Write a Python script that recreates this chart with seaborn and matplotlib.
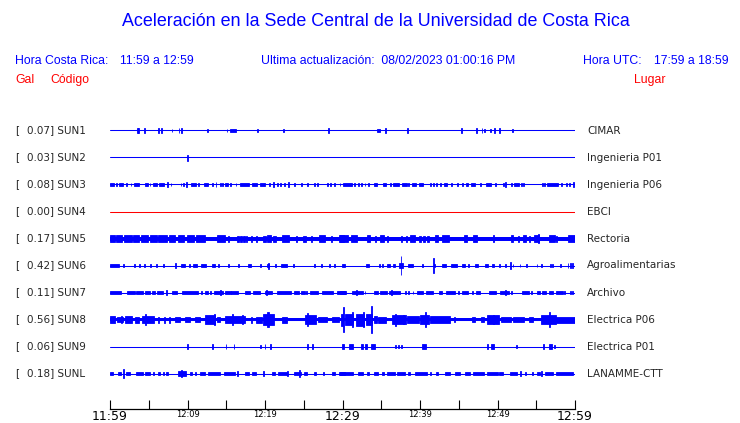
import numpy as np
import pandas as pd
import matplotlib
matplotlib.use("Agg")
import matplotlib.pyplot as plt
import seaborn as sns

# Estaciones, valores pico (Gal) y lugares
codes = ['SUN1', 'SUN2', 'SUN3', 'SUN4', 'SUN5', 'SUN6', 'SUN7', 'SUN8', 'SUN9', 'SUNL']
gal = ['0.07', '0.03', '0.08', '0.00', '0.17', '0.42', '0.11', '0.56', '0.06', '0.18']
places = ['CIMAR', 'Ingenieria P01', 'Ingenieria P06', 'EBCI', 'Rectoria',
          'Agroalimentarias', 'Archivo', 'Electrica P06', 'Electrica P01', 'LANAMME-CTT']
time_labels = ['11:59', '12:09', '12:19', '12:29', '12:39', '12:49', '12:59']

# ruido de fondo continuo (media amplitud, px)
base_amp = [0, 0, 0, 0, 2.0, 0, 0, 1.8, 0, 0]

# rafagas: (minuto, duracion en minutos, media amplitud px)
sun1 = [(3.5, .12, 1.7), (3.7, .12, 1.7), (4.4, .12, 1.7), (6.2, .12, 1.7), (6.6, .12, 1.7),
        (8.0, .12, 1.0), (8.9, .12, 1.7), (9.2, .12, 1.7), (12.6, .12, 1.5), (15.1, .12, 1.5),
        (15.85, .85, 1.4), (19.0, .12, 1.5), (22.4, .12, 1.5), (28.2, .12, 1.7), (34.7, .4, 1.4),
        (35.5, .12, 1.7), (38.4, .12, 1.7), (45.3, .12, 1.7), (47.3, .12, 1.7), (48.0, .12, 1.7),
        (48.3, .12, 1.5), (49.1, .12, 1.0), (49.6, .12, 1.7), (50.2, .12, 1.7), (51.9, .12, 1.0)]
sun2 = [(10.0, .12, 2.5)]
sun3 = [(0.25, .5, 1.5), (0.86, .12, 1.5), (1.4, .45, 1.5), (2.15, .12, 1.5), (2.71, .12, 1.5),
        (3.45, .7, 1.5), (4.7, .35, 1.5), (5.16, .12, 1.5), (5.8, .4, 1.5), (6.65, .65, 1.5),
        (7.44, .12, 1.8), (7.87, .12, 1.5), (9.16, .12, 1.5), (9.46, .12, 1.5), (9.89, .12, 2.2),
        (10.75, .6, 1.5), (11.4, .12, 1.5), (12.4, .43, 1.5), (13.2, .12, 1.5), (13.68, .12, 1.8),
        (14.28, .12, 1.5), (14.54, .12, 1.5), (15.05, .3, 1.5), (15.6, .12, 1.5), (16.26, .12, 1.5),
        (17.3, 1.15, 1.5), (18.65, .73, 1.5), (19.7, .65, 1.5), (20.56, .12, 1.5), (21.08, .12, 1.8),
        (21.63, .12, 1.5), (21.94, .12, 1.5), (22.5, .12, 1.5), (23.0, .12, 1.8), (23.8, .12, 1.2),
        (24.73, .12, 1.2), (25.5, .12, 1.2), (26.36, .12, 1.5), (26.8, .12, 1.5), (28.1, .12, 1.2),
        (28.5, .12, 1.5), (28.95, .12, 1.2), (29.68, .12, 1.5), (30.65, 1.1, 1.5), (31.5, .12, 1.5),
        (32.05, .12, 1.5), (32.5, .12, 1.5), (32.9, .12, 1.5), (33.4, .12, 1.5), (34.2, .4, 1.5),
        (35.4, .45, 1.5), (36.2, .12, 1.5), (36.95, .75, 1.5), (38.0, .6, 1.5), (38.5, .12, 1.5),
        (39.2, .5, 1.5), (40.15, .55, 1.5), (41.3, .12, 1.5), (41.7, .12, 1.5), (42.1, .12, 1.5),
        (42.6, .12, 1.2), (43.25, .35, 1.5), (44.1, .12, 1.2), (44.8, .12, 1.5), (45.5, .12, 1.5),
        (46.05, .3, 1.5), (46.85, .5, 1.5), (47.8, .12, 1.5), (48.85, .75, 1.5), (49.8, .12, 1.5),
        (50.75, .12, 1.5), (51.0, .12, 1.8), (51.8, .12, 1.5), (52.4, .65, 1.5), (53.1, .12, 1.5),
        (53.4, .12, 1.5), (55.8, .12, 1.5), (56.1, .12, 1.5), (57.1, 1.5, 1.5), (58.3, .12, 1.5),
        (58.9, .12, 1.5), (59.35, .12, 1.5), (59.8, .12, 1.8)]
sun4 = []
sun5 = [(0.3, .6, 2.6), (1.2, .8, 2.8), (2.3, 1.0, 2.6), (3.4, .8, 2.8), (4.5, .9, 2.6),
        (5.6, .8, 3.2), (6.8, 1.2, 2.6), (8.0, .7, 2.6), (9.2, .8, 2.8), (10.4, .9, 2.6),
        (11.7, 1.2, 2.6), (14.3, 1.0, 2.6), (15.3, .12, 2.5), (16.5, .2, 2.5), (16.9, .2, 2.5),
        (17.3, .2, 2.5), (17.6, .12, 2.5), (18.3, .12, 2.5), (18.9, .12, 2.5), (19.9, .4, 2.5),
        (20.5, .5, 2.6), (21.2, .4, 2.5), (22.7, .9, 2.7), (24.1, .12, 2.5), (25.1, .4, 2.5),
        (26.0, .12, 2.5), (27.4, .8, 2.6), (28.6, .12, 2.5), (29.9, .7, 2.7), (30.2, 1.0, 2.7),
        (31.5, .8, 2.8), (33.3, .4, 2.7), (34.2, .12, 2.5), (35.1, .6, 2.7), (35.8, .12, 2.5),
        (37.6, .12, 2.5), (38.2, .12, 2.5), (39.0, .6, 3.0), (40.0, .2, 2.5), (40.5, .3, 2.5),
        (41.0, .2, 2.5), (42.1, .4, 2.7), (43.3, .9, 3.0), (45.9, .4, 2.6), (47.1, .5, 2.8),
        (49.5, .2, 2.7), (51.9, .3, 2.6), (52.7, .12, 2.5), (53.5, .4, 2.7), (54.1, .12, 2.5),
        (55.0, .6, 2.8), (55.3, .12, 3.5), (57.0, .8, 2.8), (57.6, .12, 2.5), (59.5, .9, 2.7)]
sun6 = [(0.6, 1.2, 1.5), (1.7, .12, 1.5), (3.2, .12, 1.5), (3.8, .12, 1.5), (4.5, .12, 1.5),
        (5.2, .2, 1.5), (6.0, .12, 1.5), (6.9, .12, 1.5), (8.4, .12, 2.2), (9.45, .5, 1.5),
        (10.3, .12, 1.5), (10.95, .5, 1.5), (12.1, .6, 1.5), (13.3, .4, 1.5), (14.0, .12, 1.5),
        (15.3, .12, 1.5), (16.6, .12, 1.5), (18.0, .4, 1.5), (19.4, .12, 1.5), (20.4, .12, 2.5),
        (20.4, .25, 1.5), (21.3, .12, 1.5), (22.45, .7, 1.5), (23.7, .12, 1.5), (26.4, .12, 1.5),
        (27.3, .12, 1.5), (28.3, .12, 1.5), (29.0, .12, 1.5), (30.1, .4, 1.5), (33.2, .4, 1.5),
        (34.8, .12, 1.5), (35.2, .12, 1.5), (35.95, .35, 1.5), (36.65, .3, 1.5), (37.55, .5, 2.0),
        (37.55, .12, 8.0), (38.75, .6, 1.5), (40.3, .12, 1.5), (41.7, .1, 6.5), (41.9, .12, 1.5),
        (43.1, .55, 1.5), (44.4, .85, 1.5), (45.6, .4, 1.5), (46.2, .12, 1.5), (47.3, .4, 1.5),
        (48.6, .4, 1.5), (49.45, .3, 1.5), (50.2, .12, 1.5), (51.0, .12, 1.5), (51.7, .12, 3.3),
        (52.0, .12, 1.5), (52.9, .12, 1.5), (53.7, .12, 1.5), (55.1, .12, 1.5), (55.7, .12, 1.5),
        (56.8, .12, 1.5), (57.1, .12, 1.5), (58.1, .12, 1.5), (59.1, .12, 2.0), (59.4, .12, 2.0),
        (59.7, .12, 2.0)]
sun7 = [(0.7, 1.4, 1.5), (2.7, 1.0, 1.5), (3.85, .9, 1.5), (4.85, .7, 1.5), (5.6, .4, 1.5),
        (6.45, .9, 1.5), (7.3, .12, 2.0), (8.35, .7, 1.5), (10.3, 2.0, 1.5), (11.8, .12, 1.5),
        (12.5, .4, 1.5), (13.0, .12, 1.5), (14.0, 1.1, 1.5), (14.3, .12, 2.0), (15.2, .7, 1.5),
        (16.1, .9, 1.5), (17.75, .7, 1.5), (18.95, .9, 1.5), (20.45, .9, 1.5), (20.2, .12, 2.0),
        (22.5, 1.8, 1.5), (24.05, .7, 1.5), (24.95, .5, 1.5), (25.4, .12, 1.5), (26.3, 1.0, 1.5),
        (28.1, 1.4, 1.5), (29.8, 1.0, 1.5), (30.1, .8, 1.5), (31.9, 1.4, 1.5), (31.8, .2, 2.0),
        (32.9, .12, 1.5), (34.3, .6, 1.5), (35.25, .9, 1.5), (36.7, 1.4, 1.5), (36.3, .12, 2.2),
        (38.1, .12, 1.5), (38.5, .12, 1.5), (39.1, .12, 1.5), (40.0, .8, 1.5), (41.25, .9, 1.5),
        (42.6, .4, 1.5), (43.95, 1.1, 1.5), (44.95, .12, 1.5), (45.8, .8, 1.5), (46.8, .12, 1.5),
        (47.45, .5, 1.5), (49.35, .9, 1.5), (50.9, 1.2, 1.5), (51.0, .12, 2.0), (51.8, .12, 1.5),
        (53.55, .9, 1.5), (54.4, .12, 1.5), (55.3, .4, 1.5), (56.0, .6, 1.5), (56.9, .6, 1.5),
        (58.0, .8, 1.5), (58.7, .12, 1.5), (59.4, .12, 1.5), (59.7, .12, 1.5)]
sun8 = [(0.3, .6, 3.2), (1.3, .8, 2.4), (1.5, .12, 3.0), (2.4, 1.0, 2.8), (3.45, .5, 2.5),
        (4.9, 1.6, 3.3), (4.6, .15, 4.3), (6.2, .12, 2.5), (7.0, .12, 2.5), (7.7, .12, 2.5),
        (8.7, .6, 2.4), (10.0, .6, 2.4), (11.3, .6, 2.4), (12.9, 1.3, 3.5), (13.5, .12, 4.3),
        (14.0, .4, 2.4), (16.1, 2.6, 3.2), (15.8, .12, 4.3), (17.1, .12, 4.0), (18.3, .12, 2.5),
        (19.25, .7, 2.5), (20.5, 1.4, 4.5), (20.4, .2, 6.5), (22.5, .6, 2.5), (25.9, 1.4, 4.0),
        (25.5, .12, 5.7), (27.45, 1.1, 2.4), (29.05, .9, 2.4), (29.9, .3, 5.0), (30.1, .12, 10.5),
        (30.8, 1.0, 4.5), (31.3, .12, 6.5), (32.3, 1.0, 5.0), (32.7, .12, 6.0), (33.4, .7, 4.5),
        (33.8, .12, 11.5), (34.3, .4, 3.0), (35.1, 1.0, 2.5), (37.3, 1.9, 3.8), (36.8, .12, 5.0),
        (37.9, .12, 4.0), (39.1, 1.6, 2.7), (40.6, 1.2, 4.0), (40.7, .12, 6.0), (42.6, 2.5, 2.7),
        (44.5, .12, 2.4), (46.9, .4, 2.4), (48.05, .3, 2.4), (49.4, 1.6, 3.5), (49.5, .12, 4.0),
        (51.1, 1.2, 2.4), (52.7, 1.5, 2.4), (54.3, .6, 2.4), (56.6, 2.0, 4.0), (56.7, .12, 6.5),
        (58.8, 2.4, 2.5)]
sun9 = [(10.0, .12, 2.3), (13.2, .12, 2.0), (14.97, .12, 1.8), (16.0, .12, 2.0), (19.4, .12, 1.5),
        (20.0, .12, 2.3), (20.7, .12, 2.3), (25.5, .12, 2.3), (26.1, .12, 2.3), (30.1, .3, 2.0),
        (31.15, .5, 2.0), (32.5, .3, 2.0), (33.0, .3, 2.0), (33.95, .5, 2.0), (36.8, .12, 1.5),
        (37.2, .12, 1.5), (37.6, .12, 1.5), (40.5, .5, 2.0), (48.7, .12, 2.0), (49.4, .35, 2.0),
        (52.4, .12, 1.5), (55.9, .12, 2.0), (56.8, .4, 2.0), (57.4, .12, 1.5)]
sunl = [(0.2, .4, 1.5), (1.2, .4, 1.5), (1.7, .12, 4.0), (2.35, .5, 1.5), (3.8, .8, 1.5),
        (4.85, .7, 1.5), (5.6, .12, 1.5), (6.35, .3, 1.5), (6.9, .12, 1.5), (7.4, .25, 1.5),
        (9.3, 1.0, 1.7), (9.2, .12, 2.7), (10.45, .3, 1.5), (11.0, .12, 1.5), (11.95, .7, 1.5),
        (13.4, 1.6, 1.5), (15.4, 1.5, 1.6), (16.4, .12, 2.0), (17.65, .5, 1.5), (18.6, .6, 1.5),
        (19.8, .12, 2.0), (21.1, .4, 1.5), (22.3, 1.2, 1.6), (22.9, .12, 2.0), (24.25, .9, 1.5),
        (24.5, .12, 2.7), (25.2, .4, 1.5), (26.5, .25, 1.5), (27.5, .12, 1.5), (28.8, .4, 1.5),
        (29.9, .8, 1.5), (30.5, 1.6, 1.5), (32.35, .7, 1.5), (33.3, .3, 1.5), (34.3, .6, 1.5),
        (35.2, .2, 1.5), (36.25, 1.1, 1.5), (37.55, 1.1, 1.5), (38.6, .2, 1.5), (40.1, 1.5, 1.5),
        (41.3, .12, 1.5), (42.2, .2, 1.5), (43.55, .7, 1.5), (44.85, .7, 1.5), (46.15, .7, 1.5),
        (47.5, 1.4, 1.5), (49.35, 1.5, 1.5), (50.5, .5, 1.5), (52.05, .9, 1.5), (53.0, .12, 2.0),
        (53.6, .12, 1.5), (54.5, .12, 1.5), (55.3, .4, 1.5), (55.7, .12, 2.0), (56.65, 1.1, 1.5),
        (58.7, 2.2, 1.5)]
bursts = [sun1, sun2, sun3, sun4, sun5, sun6, sun7, sun8, sun9, sunl]

BLUE = '#0000ff'
RED = '#ff0000'
W, H = 740, 423
GAIN = 1.2  # escala de amplitud en pixeles


def fy(y):
    return 1 - y / H


sns.set_style('white')
plt.rcParams['font.family'] = ['DejaVu Sans']

fig = plt.figure(figsize=(W / 100, H / 100), dpi=100)
# eje en pixeles: y invertido para que cada traza quede en su fila
ax = fig.add_axes([110 / W, 1 - 409 / H, 465 / W, (409 - 112) / H])

rows = [130.5 + 27 * i for i in range(len(codes))]
colors = [RED if float(g) == 0 else BLUE for g in gal]

# lineas base de cada estacion
base = pd.DataFrame({'code': np.repeat(codes, 2),
                     't': [0, 60] * len(codes),
                     'y': np.repeat(rows, 2)})
sns.lineplot(data=base, x='t', y='y', hue='code', palette=dict(zip(codes, colors)),
             estimator=None, sort=False, legend=False, lw=0.75, ax=ax)

for row, col, b, ev in zip(rows, colors, base_amp, bursts):
    if b > 0:
        ax.bar(30, 2 * b, width=60, bottom=row - b, color=col, lw=0)
    if ev:
        t, w, a = np.array(ev).T
        a = a * GAIN
        ax.bar(t, 2 * a, width=w, bottom=row - a, color=col, edgecolor=col, lw=0.6)

ax.set_xlim(0, 60)
ax.set_ylim(409, 112)
ax.set_xlabel('')
ax.set_ylabel('')
ax.set_yticks([])
ax.set_xticks(range(0, 61, 5))
ax.set_xticklabels([time_labels[i // 2] if i % 2 == 0 else '' for i in range(13)])
ax.tick_params(axis='x', direction='in', length=6.5, width=0.8, pad=0.5, colors='black', bottom=True)
for i, lab in enumerate(ax.get_xticklabels()):
    lab.set_fontsize(9.0 if i % 6 == 0 else 6)
for s in ['top', 'left', 'right']:
    ax.spines[s].set_visible(False)
ax.spines['bottom'].set_color('black')
ax.spines['bottom'].set_linewidth(0.9)
ax.patch.set_alpha(0)

# textos de la estacion
for row, g, c, p in zip(rows, gal, codes, places):
    fig.text(15 / W, fy(row), '[', fontsize=7.5, va='center')
    fig.text(27 / W, fy(row), f'{g}] {c}', fontsize=7.5, va='center')
    fig.text(587 / W, fy(row), p, fontsize=7.5, va='center')

hdr = dict(family='Liberation Sans', fontsize=8.8, va='center')
fig.text(376 / W, fy(22), 'Aceleración en la Sede Central de la Universidad de Costa Rica',
         ha='center', va='center', color=BLUE, fontsize=12.9, family='Liberation Sans')
fig.text(15 / W, fy(60.5), 'Hora Costa Rica:', color=BLUE, **hdr)
fig.text(120 / W, fy(60.5), '11:59 a 12:59', color=BLUE, **hdr)
fig.text(261 / W, fy(60.5), 'Ultima actualización:  08/02/2023 01:00:16 PM', color=BLUE, **hdr)
fig.text(583 / W, fy(60.5), 'Hora UTC:', color=BLUE, **hdr)
fig.text(654 / W, fy(60.5), '17:59 a 18:59', color=BLUE, **hdr)
fig.text(15 / W, fy(80), 'Gal', color=RED, **hdr)
fig.text(50 / W, fy(80), 'Código', color=RED, **hdr)
fig.text(634 / W, fy(80), 'Lugar', color=RED, **hdr)

fig.savefig('out.png', dpi=100)
